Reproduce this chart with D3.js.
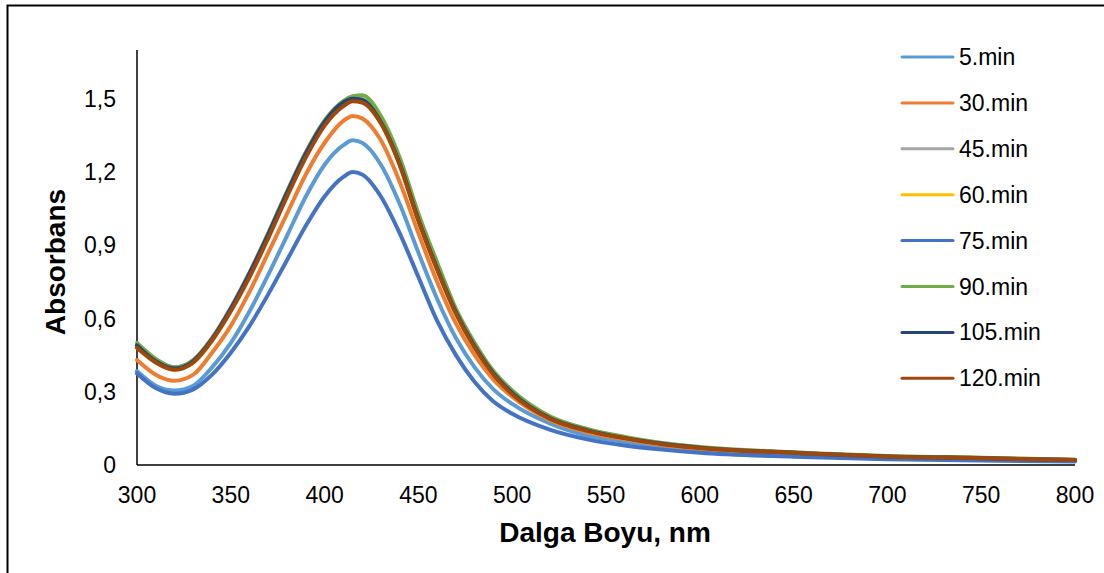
<!DOCTYPE html>
<html><head><meta charset="utf-8">
<script src="https://cdn.jsdelivr.net/npm/d3@7"></script>
<style>
html,body{margin:0;padding:0;background:#fff;}
svg{display:block;font-family:"Liberation Sans",Arial,sans-serif;}
</style></head>
<body>
<svg id="chart" width="1104" height="573"></svg>
<script>
const wavelengths = [300,310,320,330,340,350,360,370,380,390,400,410,415,420,430,440,450,460,470,480,490,500,520,540,560,580,600,650,700,750,800];
const seriesNames = ["5.min","30.min","45.min","60.min","75.min","90.min","105.min","120.min"];
const seriesColors = ["#5B9BD5","#ED7D31","#A5A5A5","#FFC000","#4472C4","#70AD47","#264478","#9E480E"];
const s5   = [0.385,0.325,0.305,0.325,0.40,0.50,0.63,0.78,0.94,1.10,1.23,1.31,1.33,1.32,1.23,1.07,0.87,0.68,0.52,0.40,0.31,0.25,0.17,0.12,0.095,0.075,0.06,0.042,0.03,0.022,0.018];
const s30  = [0.43,0.37,0.345,0.37,0.46,0.57,0.71,0.87,1.03,1.19,1.32,1.41,1.43,1.42,1.33,1.16,0.95,0.75,0.58,0.45,0.35,0.28,0.185,0.135,0.105,0.082,0.067,0.047,0.033,0.026,0.019];
const s45  = [0.49,0.43,0.40,0.43,0.52,0.645,0.79,0.95,1.12,1.28,1.41,1.49,1.51,1.50,1.41,1.24,1.01,0.81,0.63,0.49,0.38,0.30,0.195,0.145,0.112,0.088,0.072,0.051,0.036,0.029,0.021];
const s60  = [0.48,0.42,0.39,0.42,0.51,0.635,0.78,0.94,1.11,1.27,1.40,1.48,1.50,1.49,1.40,1.23,1.00,0.80,0.62,0.48,0.37,0.29,0.19,0.14,0.11,0.086,0.07,0.05,0.035,0.028,0.02];
const s75  = [0.375,0.315,0.292,0.31,0.37,0.46,0.57,0.70,0.84,0.98,1.10,1.18,1.20,1.19,1.10,0.95,0.77,0.59,0.45,0.34,0.26,0.21,0.145,0.105,0.08,0.063,0.05,0.034,0.024,0.018,0.014];
const s90  = [0.50,0.435,0.40,0.43,0.52,0.64,0.785,0.95,1.12,1.28,1.41,1.49,1.51,1.515,1.43,1.26,1.03,0.83,0.64,0.50,0.385,0.305,0.20,0.148,0.115,0.09,0.074,0.052,0.037,0.03,0.022];
const s105 = [0.49,0.425,0.395,0.425,0.515,0.64,0.785,0.945,1.115,1.275,1.405,1.485,1.50,1.495,1.405,1.235,1.005,0.805,0.625,0.485,0.375,0.295,0.192,0.142,0.11,0.087,0.071,0.05,0.035,0.028,0.02];
const s120 = [0.48,0.42,0.39,0.42,0.51,0.63,0.77,0.93,1.10,1.26,1.39,1.47,1.49,1.485,1.40,1.23,1.00,0.80,0.62,0.48,0.37,0.29,0.19,0.14,0.11,0.085,0.07,0.05,0.035,0.028,0.02];
const seriesValues = [s5,s30,s45,s60,s75,s90,s105,s120];
const xTicks = [300,350,400,450,500,550,600,650,700,750,800];
const yTicks = [0,0.3,0.6,0.9,1.2,1.5];

const svg = d3.select("#chart");
// frame
svg.append("path").attr("d","M7.5,573 V5.5 H1104").attr("fill","none").attr("stroke","#000").attr("stroke-width",2);

const x = d3.scaleLinear().domain([300,800]).range([137,1075]);
const y = d3.scaleLinear().domain([0,1.7]).range([465,50]);

// axes lines
svg.append("line").attr("x1",x(300)).attr("x2",x(300)).attr("y1",y(1.7)).attr("y2",y(0)).attr("stroke","#000").attr("stroke-width",1.5);
svg.append("line").attr("x1",x(300)).attr("x2",x(800)).attr("y1",y(0)).attr("y2",y(0)).attr("stroke","#000").attr("stroke-width",1.5);

const fmt = d => d===0 ? "0" : d3.format(".1f")(d).replace(".",",");
svg.append("g").selectAll("text").data(yTicks).join("text")
  .attr("x",116).attr("y",d=>y(d)).attr("dy","0.35em").attr("text-anchor","end")
  .attr("font-size",23).attr("fill","#000").text(fmt);
svg.append("g").selectAll("text").data(xTicks).join("text")
  .attr("x",d=>x(d)).attr("y",503).attr("text-anchor","middle")
  .attr("font-size",23).attr("fill","#000").text(d=>d);

svg.append("text").attr("x",605).attr("y",542).attr("text-anchor","middle")
  .attr("font-size",28).attr("font-weight","bold").text("Dalga Boyu, nm");
svg.append("text").attr("transform","translate(65,262) rotate(-90)").attr("text-anchor","middle")
  .attr("font-size",28).attr("font-weight","bold").text("Absorbans");

const line = d3.line().x((d,i)=>x(wavelengths[i])).y(d=>y(d)).curve(d3.curveMonotoneX);
svg.append("g").selectAll("path").data(seriesValues).join("path")
  .attr("d",line).attr("fill","none").attr("stroke",(d,i)=>seriesColors[i])
  .attr("stroke-width",4).attr("stroke-linejoin","round").attr("stroke-linecap","round");

// legend
const lg = svg.append("g").selectAll("g").data(seriesNames).join("g")
  .attr("transform",(d,i)=>`translate(0,${57+i*45.9})`);
lg.append("line").attr("x1",902).attr("x2",953).attr("y1",0).attr("y2",0)
  .attr("stroke",(d,i)=>seriesColors[i]).attr("stroke-width",3).attr("stroke-linecap","round");
lg.append("text").attr("x",959).attr("y",0).attr("dy","0.35em").attr("font-size",23).text(d=>d);
</script>
</body></html>
